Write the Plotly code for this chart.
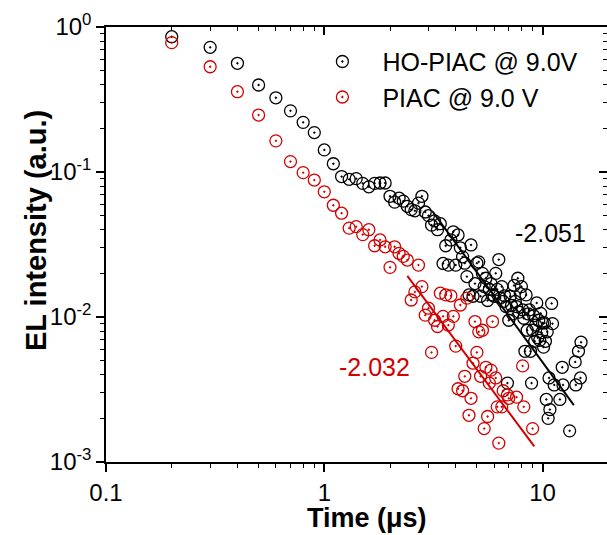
import plotly.graph_objects as go

# time axis (us), sampled every 0.1 us
time_ho = [0.2, 0.3, 0.4, 0.5, 0.6, 0.7, 0.8, 0.9, 1.0,
           1.1, 1.2, 1.3, 1.4, 1.5, 1.6, 1.7, 1.8, 1.9, 2.0,
           2.1, 2.2, 2.3, 2.4, 2.5, 2.6, 2.7, 2.8, 2.9, 3.0,
           3.1, 3.2, 3.3, 3.4, 3.5, 3.6, 3.7, 3.8, 3.9, 4.0,
           4.1, 4.2, 4.3, 4.4, 4.5, 4.6, 4.7, 4.8, 4.9, 5.0,
           5.1, 5.2, 5.3, 5.4, 5.5, 5.6, 5.7, 5.8, 5.9, 6.0,
           6.1, 6.2, 6.3, 6.4, 6.5, 6.6, 6.7, 6.8, 6.9, 7.0,
           7.1, 7.2, 7.3, 7.4, 7.5, 7.6, 7.7, 7.8, 7.9, 8.0,
           8.1, 8.2, 8.3, 8.4, 8.5, 8.6, 8.7, 8.8, 8.9, 9.0,
           9.1, 9.2, 9.3, 9.4, 9.5, 9.6, 9.7, 9.8, 9.9, 10.0,
           10.1, 10.2, 10.3, 10.4, 10.5, 10.6, 10.7, 10.8, 10.9, 11.0,
           11.1, 11.2, 11.3, 11.4, 11.5, 11.6, 11.7, 11.8, 11.9, 12.0,
           12.1, 12.2, 12.3, 12.4, 12.5, 12.6, 12.7, 12.8, 12.9, 13.0,
           13.1, 13.2, 13.3, 13.4, 13.5, 13.6, 13.7, 13.8, 13.9, 14.0,
           14.1, 14.2, 14.3, 14.4, 14.5, 14.6, 14.7, 14.8, 14.9, 15.0]
# None = below 1e-3, off the chart
el_ho = [0.857, 0.724, 0.562, 0.398, 0.325, 0.264, 0.220, 0.187, 0.142,
         0.114, 0.093, 0.089, 0.090, 0.0835, 0.079, 0.0835, 0.084, 0.084, 0.068,
         0.062, 0.066, 0.063, 0.058, 0.055, 0.054, 0.061, 0.068, 0.053, 0.050,
         0.043, 0.046, 0.040, 0.044, 0.0234, 0.031, 0.0228, 0.034, 0.0387, 0.0228,
         0.0368, 0.030, 0.026, 0.0235, 0.019, 0.0142, 0.0314, 0.0139, 0.017, 0.0235,
         0.024, 0.0139, 0.020, 0.0162, 0.0185, 0.013, 0.0155, 0.017, 0.0142, 0.0139,
         0.020, 0.0155, 0.0249, 0.0135, 0.0162, 0.0128, 0.014, 0.0118, 0.0035, 0.0095,
         0.0139, 0.0120, 0.0105, 0.0165, 0.0128, 0.0118, 0.0185, 0.0108, 0.0145, 0.0162,
         0.0112, 0.0098, 0.0058, 0.0142, 0.0081, 0.0105, 0.0112, 0.0058, 0.0035, 0.0081,
         0.0102, 0.0068, 0.0088, 0.0125, 0.0072, 0.0095, 0.0069, 0.0106, 0.0078, 0.0091,
         0.0062, 0.0091, 0.0068, 0.0027, 0.0079, 0.0020, 0.0038, 0.0023, None, 0.0124,
         0.0090, None, 0.0034, None, None, None, None, None, None, 0.0027,
         None, None, 0.0045, 0.0034, None, None, None, None, None, None,
         None, None, 0.00164, None, None, None, None, None, None, None,
         0.0049, 0.0034, None, None, None, 0.0058, None, None, 0.0038, 0.0067]

time_piac = [0.2, 0.3, 0.4, 0.5, 0.6, 0.7, 0.8, 0.9, 1.0,
             1.1, 1.2, 1.3, 1.4, 1.5, 1.6, 1.7, 1.8, 1.9, 2.0,
             2.1, 2.2, 2.3, 2.4, 2.5, 2.6, 2.7, 2.8, 2.9, 3.0,
             3.1, 3.2, 3.3, 3.4, 3.5, 3.6, 3.7, 3.8, 3.9, 4.0,
             4.1, 4.2, 4.3, 4.4, 4.5, 4.6, 4.7, 4.8, 4.9, 5.0,
             5.1, 5.2, 5.3, 5.4, 5.5, 5.6, 5.7, 5.8, 5.9, 6.0,
             6.1, 6.2, 6.3, 6.4, 6.5, 6.6, 6.7, 6.8, 6.9, 7.0,
             7.1, 7.2, 7.3, 7.4, 7.5, 7.6, 7.7, 7.8, 7.9, 8.0,
             8.1, 8.2, 8.3, 8.4, 8.5, 8.6, 8.7, 8.8, 8.9, 9.0]
el_piac = [0.78, 0.532, 0.358, 0.247, 0.164, 0.118, 0.099, 0.088, 0.073,
           0.059, 0.052, 0.041, 0.042, 0.037, 0.040, 0.031, 0.034, 0.0305, 0.022,
           0.0305, 0.0275, 0.0262, 0.0247, 0.0131, 0.0149, 0.0228, 0.0162, 0.0103, 0.0115,
           0.0057, 0.0095, 0.0086, 0.0146, 0.0101, 0.0142, 0.0088, 0.0140, 0.0101, 0.0063,
           0.0032, 0.0121, 0.0031, 0.0039, 0.0135, 0.0021, 0.00275, 0.0048, 0.0093, 0.0057,
           0.0079, 0.0039, 0.0081, 0.0017, 0.0045, 0.00206, 0.0035, 0.0043, 0.0093, None,
           0.0038, 0.0024, 0.00135, None, 0.0024, 0.0031, None, None, 0.0029, 0.00275,
           None, None, None, None, None, 0.0028, None, None, None, None,
           0.0046, 0.0024, None, None, None, None, None, None, None, 0.0017]

# power-law fits
fit_ho_x = [3.14, 13.9]
fit_ho_y = [0.0532, 0.00247]
fit_piac_x = [2.40, 9.16]
fit_piac_y = [0.0192, 0.00128]
slope_ho = '-2.051'
slope_piac = '-2.032'

red = 'rgb(210,0,0)'
font = 'Liberation Sans, Arial, sans-serif'
minor_x = [0.2, 0.3, 0.4, 0.5, 0.6, 0.7, 0.8, 0.9, 2, 3, 4, 5, 6, 7, 8, 9]
minor_y = [0.002, 0.003, 0.004, 0.005, 0.006, 0.007, 0.008, 0.009,
           0.02, 0.03, 0.04, 0.05, 0.06, 0.07, 0.08, 0.09,
           0.2, 0.3, 0.4, 0.5, 0.6, 0.7, 0.8, 0.9]

fig = go.Figure()
fig.add_trace(go.Scatter(x=time_ho, y=el_ho, mode='markers', name='HO-PIAC @ 9.0V',
                         marker=dict(symbol='circle-open-dot', size=12, color='black',
                                     line=dict(width=1.3, color='black'))))
fig.add_trace(go.Scatter(x=time_piac, y=el_piac, mode='markers', name='PIAC @ 9.0 V',
                         marker=dict(symbol='circle-open-dot', size=12, color=red,
                                     line=dict(width=1.3, color=red))))
fig.add_trace(go.Scatter(x=fit_ho_x, y=fit_ho_y, mode='lines', showlegend=False,
                         line=dict(color='black', width=2)))
fig.add_trace(go.Scatter(x=fit_piac_x, y=fit_piac_y, mode='lines', showlegend=False,
                         line=dict(color=red, width=2)))

xr = [-1, 1.295]
yr = [-3, 0]
fig.update_layout(
    width=607, height=535,
    margin=dict(l=106, r=0, t=27, b=73),
    plot_bgcolor='white', paper_bgcolor='white',
    font=dict(family=font, size=24, color='black'),
    showlegend=True,
    legend=dict(x=0.392, y=0.973, xanchor='left', yanchor='top',
                font=dict(size=25), bgcolor='rgba(0,0,0,0)', itemwidth=70,
                tracegroupgap=0),
    xaxis=dict(type='log', range=xr, showgrid=False, zeroline=False,
               showline=True, linecolor='black', linewidth=1.5,
               tickvals=[0.1, 1, 10], ticktext=['0.1', '1', '10'],
               ticks='outside', ticklen=8, tickwidth=1.5, tickcolor='black',
               minor=dict(ticks='outside', ticklen=4, tickwidth=1.2, tickcolor='black',
                          tickvals=minor_x)),
    yaxis=dict(type='log', range=yr, showgrid=False, zeroline=False,
               showline=True, linecolor='black', linewidth=1.5,
               tickvals=[0.001, 0.01, 0.1, 1],
               ticktext=['10<sup>-3</sup>', '10<sup>-2</sup>', '10<sup>-1</sup>', '10<sup>0</sup>'],
               ticks='outside', ticklen=8, tickwidth=1.5, tickcolor='black',
               minor=dict(ticks='outside', ticklen=4, tickwidth=1.2, tickcolor='black',
                          tickvals=minor_y)),
    # mirrored frame with inward ticks on top and right
    xaxis2=dict(type='log', range=xr, overlaying='x', side='top', anchor='y',
                showgrid=False, zeroline=False, showticklabels=False,
                showline=True, linecolor='black', linewidth=1.5,
                tickvals=[0.1, 1, 10], ticks='inside', ticklen=8, tickwidth=1.5, tickcolor='black',
                minor=dict(ticks='inside', ticklen=4, tickwidth=1.2, tickcolor='black',
                           tickvals=minor_x)),
    yaxis2=dict(type='log', range=yr, overlaying='y', side='right', anchor='x',
                showgrid=False, zeroline=False, showticklabels=False,
                showline=True, linecolor='black', linewidth=1.5,
                tickvals=[0.001, 0.01, 0.1, 1], ticks='inside', ticklen=8, tickwidth=1.5,
                tickcolor='black',
                minor=dict(ticks='inside', ticklen=4, tickwidth=1.2, tickcolor='black',
                           tickvals=minor_y)),
)
# invisible trace so the mirrored axes get drawn
fig.add_trace(go.Scatter(x=[None], y=[None], xaxis='x2', yaxis='y2',
                         showlegend=False, hoverinfo='skip'))

# slope labels (log10 positions on the log axes)
fig.add_annotation(text=slope_ho, x=1.034, y=-1.421, xref='x', yref='y',
                   showarrow=False, font=dict(size=25, color='black'))
fig.add_annotation(text=slope_piac, x=0.232, y=-2.345, xref='x', yref='y',
                   showarrow=False, font=dict(size=25, color=red))
# axis titles
fig.add_annotation(text='<b>Time (\u03bcs)</b>', x=0.52, y=-0.128, xref='paper', yref='paper',
                   showarrow=False, font=dict(size=27), xanchor='center', yanchor='middle')
fig.add_annotation(text='<b>EL intensity (a.u.)</b>', x=-0.14, y=0.533, xref='paper',
                   yref='paper', showarrow=False, textangle=-90,
                   font=dict(size=29), xanchor='center', yanchor='middle')

fig.write_html("out.html", config={'displayModeBar': False},
               post_script="document.body.style.margin='0';document.body.style.overflow='hidden';")
